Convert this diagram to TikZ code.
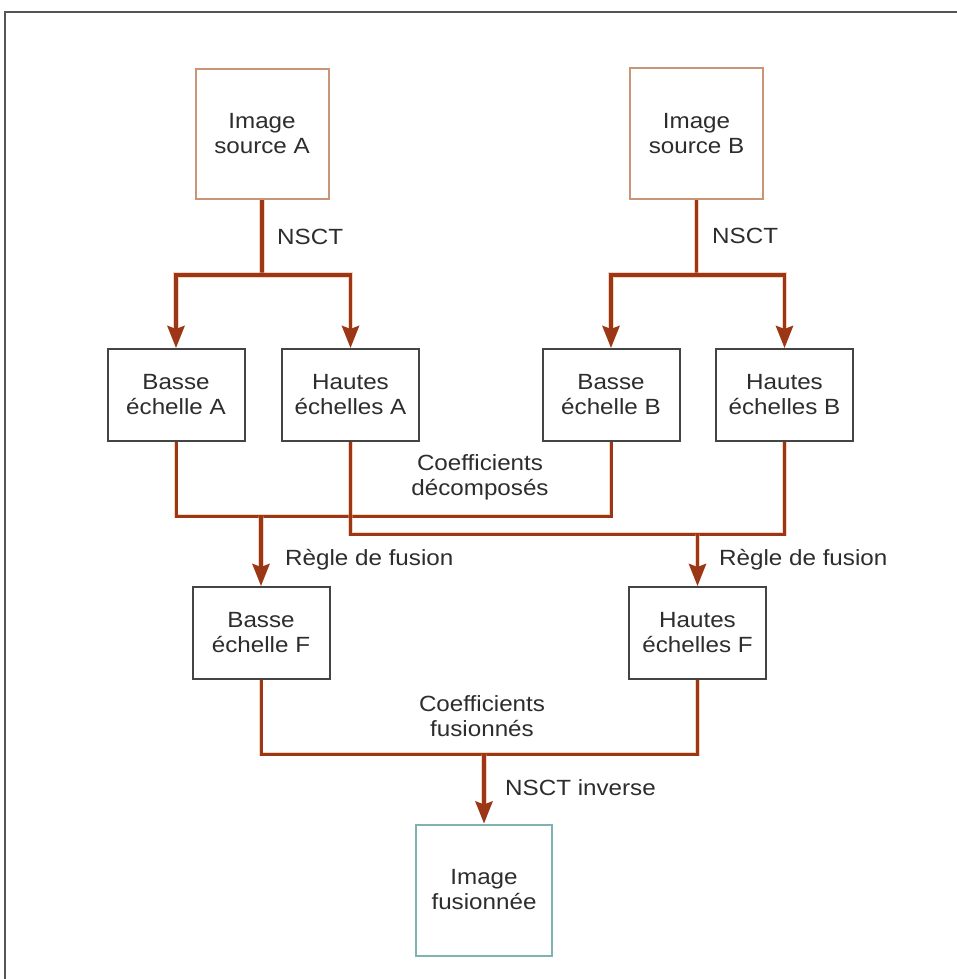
\documentclass[tikz,border=0pt]{standalone}
\usepackage{fontspec}
\setmainfont{Liberation Sans}[FakeStretch=1.1]
\usetikzlibrary{arrows.meta}
\definecolor{wire}{RGB}{155,55,22}
\definecolor{wireglow}{RGB}{240,160,110}
\definecolor{srcedge}{RGB}{200,150,118}
\definecolor{midedge}{RGB}{68,68,68}
\definecolor{outedge}{RGB}{128,178,180}
\definecolor{ink}{RGB}{45,45,45}
\definecolor{frame}{RGB}{85,85,85}
\begin{document}
\begin{tikzpicture}[x=1pt,y=-1pt,
  every node/.style={font=\fontsize{22}{25}\selectfont, text=ink},
  box/.style={draw, line width=2pt, fill=white, align=center, inner sep=0pt},
  srcbox/.style={box, draw=srcedge, minimum width=133pt, minimum height=130pt},
  midbox/.style={box, draw=midedge, minimum width=137pt, minimum height=92pt},
  outbox/.style={box, draw=outedge, minimum width=136pt, minimum height=131pt},
  wirebase/.style={draw=wire, line cap=butt, line join=miter,
    preaction={draw=wireglow, line width=#1+1.6pt, opacity=0.45}, line width=#1},
  feed/.style={wirebase=3.8pt, -{Stealth[length=22pt,width=17pt,inset=3pt]}},
  merge/.style={wirebase=3pt},
  mergearrow/.style={wirebase=3.6pt, -{Stealth[length=22pt,width=17pt,inset=3pt]}},
  lbl/.style={align=center, inner sep=0pt}
]
\useasboundingbox (0,0) rectangle (957,979);
\fill[white] (0,0) rectangle (957,979);
% outer frame
\draw[frame, line width=2pt] (5,979) -- (5,12) -- (957,12);

% sources
\node[srcbox] (srcA) at (262,134) {Image\\source A};
\node[srcbox] (srcB) at (696.5,133.5) {Image\\source B};

% decomposed scales
\node[midbox] (basA) at (176,395) {Basse\\échelle A};
\node[midbox] (hauA) at (350.5,395) {Hautes\\échelles A};
\node[midbox] (basB) at (611,395) {Basse\\échelle B};
\node[midbox] (hauB) at (784.5,395) {Hautes\\échelles B};

% fused scales
\node[midbox] (basF) at (261,633) {Basse\\échelle F};
\node[midbox] (hauF) at (697.5,633) {Hautes\\échelles F};

% result
\node[outbox] (fus) at (484,890) {Image\\fusionnée};

% junction points
\coordinate (jA) at (262,275);
\coordinate (jB) at (696.5,275);
\coordinate (mB) at (261,516);
\coordinate (mH) at (697.5,534);
\coordinate (mF) at (484,754);

% NSCT decomposition
\draw[wirebase=3.8pt] (srcA.south) -- (jA);
\draw[feed] (jA) -| (basA.north);
\draw[feed] (jA) -| (hauA.north);
\draw[wirebase=3.8pt] (srcB.south) -- (jB);
\draw[feed] (jB) -| (basB.north);
\draw[feed] (jB) -| (hauB.north);

% fusion of the coefficients
\draw[merge] (basA.south) |- (mB) -| (basB.south);
\draw[merge] (hauA.south) |- (mH) -| (hauB.south);
\draw[mergearrow] (mB) -- (basF.north);
\draw[mergearrow] (mH) -- (hauF.north);

% inverse transform
\draw[merge] (basF.south) |- (mF) -| (hauF.south);
\draw[mergearrow] (mF) -- (fus.north);

% labels
\node[lbl, anchor=west] (tA) at (277,237) {NSCT};
\node[lbl, anchor=west] (tB) at (712,236) {NSCT};
\node[lbl] (cdec) at (480,477) {Coefficients\\décomposés};
\node[lbl, anchor=west] (rL) at (285,560) {Règle de fusion};
\node[lbl, anchor=west] (rR) at (719,560) {Règle de fusion};
\node[lbl] (cfus) at (482,716) {Coefficients\\fusionnés};
\node[lbl, anchor=west] (tinv) at (505,788) {NSCT inverse};
\end{tikzpicture}
\end{document}
